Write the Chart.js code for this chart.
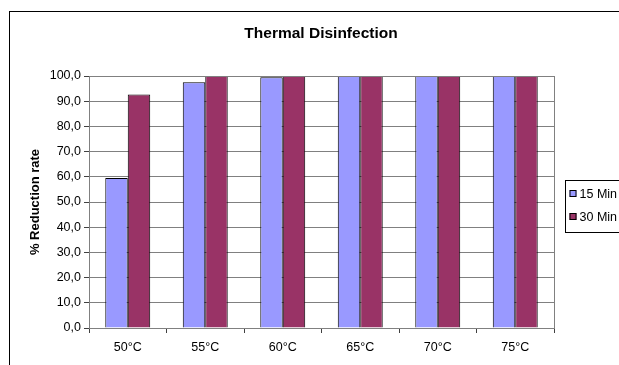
<!DOCTYPE html>
<html>
<head>
<meta charset="utf-8">
<script src="https://cdn.jsdelivr.net/npm/chart.js@4/dist/chart.umd.min.js"></script>
<style>
  body { margin: 0; background: #fff; overflow: hidden; }
  #box { position: absolute; left: 9px; top: 11px; width: 622px; height: 360px; border: 1px solid #000; background: #fff; }
</style>
</head>
<body>
<div id="box"><canvas id="thermalChart" width="622" height="360"></canvas></div>
<script>
// data
const temps = ["50°C", "55°C", "60°C", "65°C", "70°C", "75°C"];
const min15 = [59.5, 97.5, 99.5, 100, 100, 100];
const min30 = [92.7, 100, 100, 100, 100, 100];
const seriesNames = ["15 Min", "30 Min"];
const yTicks = [0, 10, 20, 30, 40, 50, 60, 70, 80, 90, 100];

const FONT = "'Liberation Sans', Arial, sans-serif";

// title, plot border and the boxed legend like the Excel original
const excelBits = {
  id: "excelBits",
  afterDraw(chart) {
    const c = chart.ctx;
    const a = chart.chartArea;
    c.save();
    c.strokeStyle = "#808080";
    c.lineWidth = 1;
    c.strokeRect(Math.round(a.left) + 0.5, Math.round(a.top) + 0.5, Math.round(a.right - a.left), Math.round(a.bottom - a.top));

    c.fillStyle = "#000";
    c.font = "bold 15.5px " + FONT;
    c.textAlign = "center";
    c.textBaseline = "middle";
    c.fillText("Thermal Disinfection", chart.width / 2, 22);

    // legend
    const lx = 555.5, ly = 168.5;
    c.strokeStyle = "#000";
    c.strokeRect(lx, ly, 70, 52);
    c.font = "12.5px " + FONT;
    c.textAlign = "left";
    chart.data.datasets.forEach((ds, i) => {
      const y = ly + 13 + i * 23;
      c.fillStyle = ds.backgroundColor;
      c.fillRect(lx + 4, y - 3.5, 7, 7);
      c.strokeStyle = "#000";
      c.strokeRect(lx + 4.5, y - 3, 6, 6);
      c.fillStyle = "#000";
      c.fillText(ds.label, lx + 14, y + 1);
    });
    c.restore();
  }
};

new Chart(document.getElementById("thermalChart"), {
  type: "bar",
  data: {
    labels: temps,
    datasets: [
      { label: seriesNames[0], data: min15, backgroundColor: "#9999FF", borderColor: "#000", borderWidth: 1 },
      { label: seriesNames[1], data: min30, backgroundColor: "#993366", borderColor: "#000", borderWidth: 1 }
    ]
  },
  options: {
    responsive: false,
    animation: false,
    layout: { padding: { top: 64, right: 78, bottom: 14, left: 0 } },
    datasets: { bar: { categoryPercentage: 0.58, barPercentage: 1 } },
    plugins: {
      legend: { display: false },
      title: { display: false },
      tooltip: { enabled: false }
    },
    scales: {
      x: {
        grid: { display: true, drawOnChartArea: false, tickLength: 5, tickColor: "#404040" },
        border: { color: "#404040" },
        ticks: { color: "#000", font: { family: FONT, size: 12.5 }, padding: 7 },
        afterFit: s => { s.height = 30; }
      },
      y: {
        min: 0,
        max: 100,
        afterBuildTicks: s => { s.ticks = yTicks.map(v => ({ value: v })); },
        grid: { color: "#808080", tickLength: 5, tickColor: "#404040" },
        border: { color: "#404040" },
        ticks: {
          color: "#000",
          padding: 3,
          font: { family: FONT, size: 12.5 },
          callback: v => v.toFixed(1).replace(".", ",")
        },
        title: {
          display: true,
          text: "% Reduction rate",
          color: "#000",
          font: { family: FONT, size: 13, weight: "bold" },
          padding: { top: 18, bottom: 0 }
        },
        afterFit: s => { s.width = 79; }
      }
    }
  },
  plugins: [excelBits]
});
</script>
</body>
</html>
